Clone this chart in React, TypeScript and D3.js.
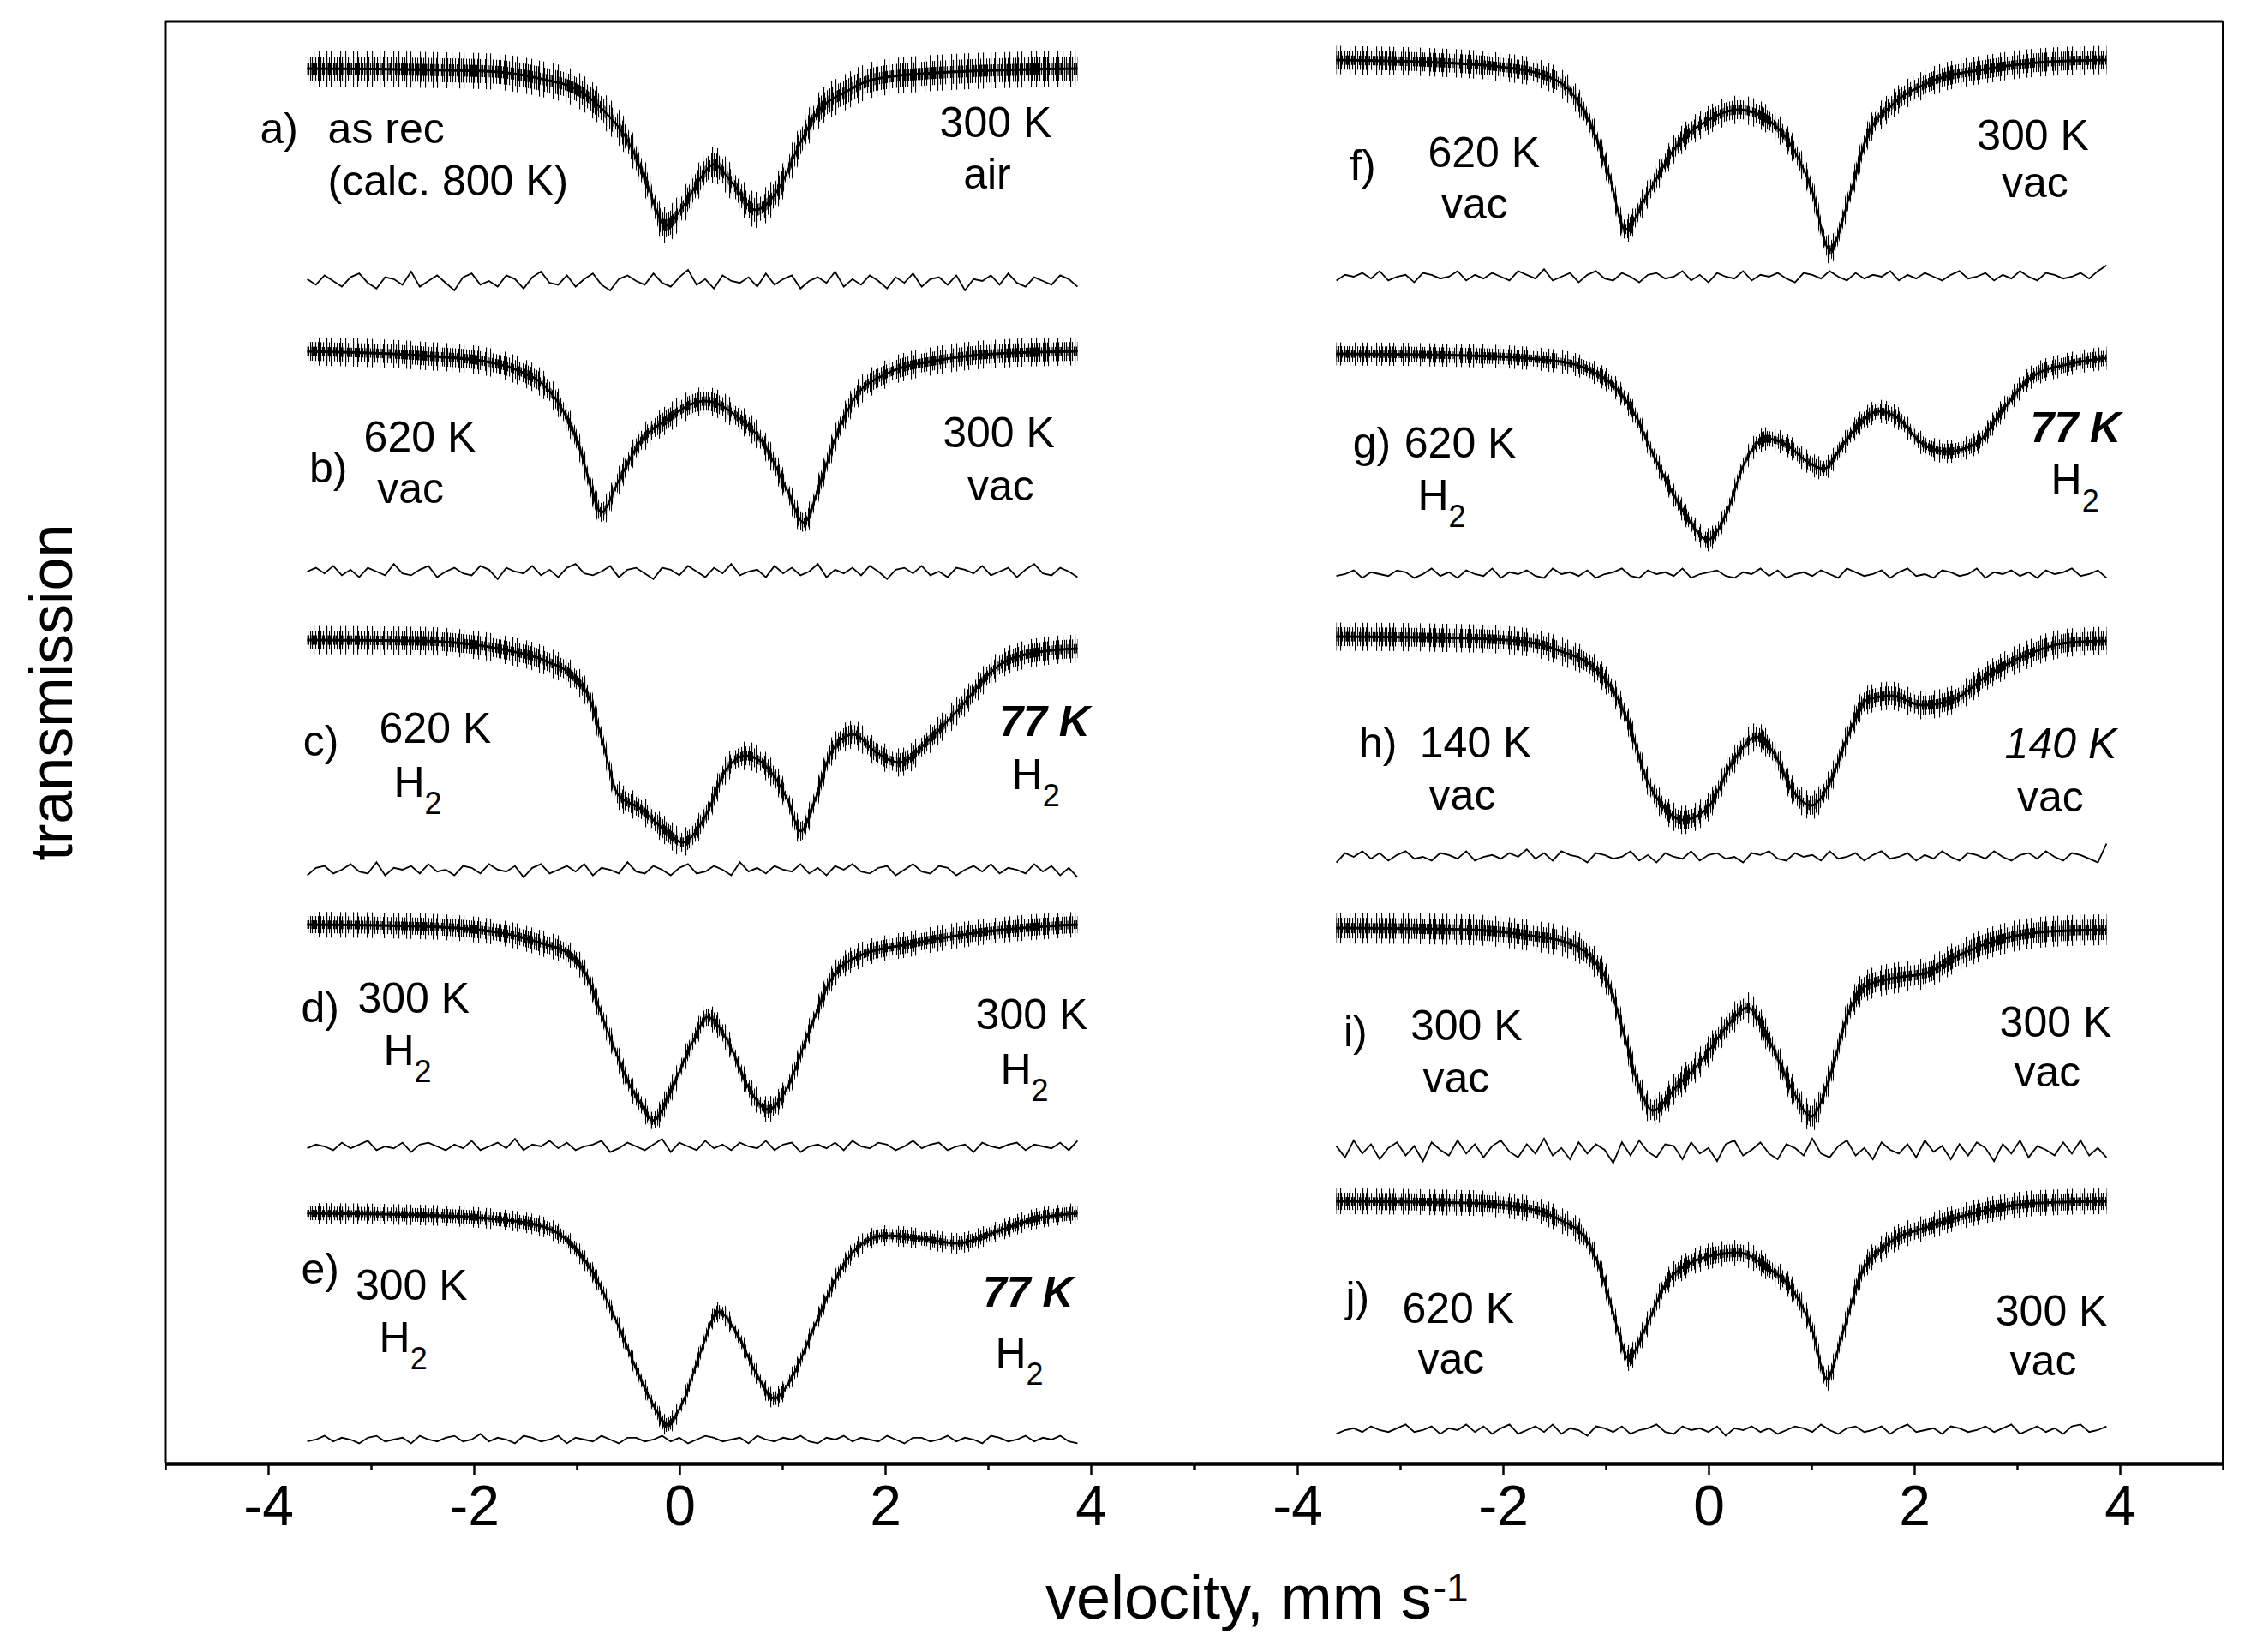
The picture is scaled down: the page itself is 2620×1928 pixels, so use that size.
import React, { useRef, useEffect } from 'react';
import * as d3 from 'd3';

const W = 2620;
const H = 1928;

// recorded velocity range (mm/s) and axis ticks
const velRange = [-3.62, 3.87];
const ticksMajor = [-4, -2, 0, 2, 4];
const ticksMinor = [-5, -3, -1, 1, 3, 5];

// fitted curves: velocity (mm/s) -> relative transmission (%)
const aVel = [-3.62, -1.89, -1.31, -1.02, -0.73, -0.49, -0.32, -0.14, 0.04, 0.21, 0.33, 0.51, 0.74, 0.98, 1.15, 1.33, 1.62, 1.91, 2.49, 3.08, 3.87];
const aFit = [100, 99.85, 99.35, 98.85, 97.5, 95.65, 93.35, 90.85, 92.0, 93.65, 94.4, 93.35, 91.75, 93.15, 95.35, 97.35, 98.65, 99.4, 99.75, 99.9, 100];

const bVel = [-3.62, -2.52, -1.88, -1.56, -1.29, -1.13, -0.97, -0.84, -0.76, -0.6, -0.39, -0.13, 0.25, 0.57, 0.83, 1.05, 1.21, 1.37, 1.53, 1.69, 2.0, 2.53, 3.07, 3.87];
const bFit = [100, 99.75, 99.4, 98.85, 97.85, 96.5, 94.35, 91.65, 90.6, 92.35, 94.65, 96.0, 97.1, 96.15, 94.5, 91.85, 90.0, 92.35, 95.15, 97.15, 98.65, 99.5, 99.85, 100];

const cVel = [-3.62, -2.52, -1.72, -1.29, -1.03, -0.87, -0.76, -0.6, -0.39, -0.13, 0.03, 0.25, 0.46, 0.65, 0.83, 1.05, 1.18, 1.32, 1.48, 1.69, 1.9, 2.14, 2.43, 2.75, 3.07, 3.44, 3.87];
const cFit = [100, 99.95, 99.45, 98.75, 97.85, 96.5, 94.35, 91.0, 90.2, 88.85, 88.2, 89.7, 92.5, 93.25, 92.7, 90.7, 88.85, 90.7, 93.5, 94.5, 93.5, 92.85, 94.2, 96.2, 98.35, 99.25, 99.5];

const dVel = [-3.62, -2.52, -1.77, -1.34, -1.08, -0.92, -0.71, -0.49, -0.34, -0.26, -0.07, 0.14, 0.27, 0.46, 0.67, 0.86, 1.05, 1.26, 1.47, 1.74, 2.27, 2.8, 3.33, 3.87];
const dFit = [100, 99.9, 99.55, 98.9, 98.3, 97.2, 93.95, 90.7, 89.2, 88.55, 90.5, 93.3, 94.6, 93.3, 90.5, 89.2, 90.5, 93.75, 96.75, 98.15, 98.9, 99.45, 99.8, 100];

const eVel = [-3.62, -2.52, -1.77, -1.29, -1.03, -0.82, -0.6, -0.39, -0.23, -0.13, 0.03, 0.2, 0.38, 0.57, 0.76, 0.92, 1.1, 1.32, 1.53, 1.74, 2.0, 2.38, 2.7, 3.07, 3.44, 3.87];
const eFit = [100, 99.9, 99.65, 99.15, 98.05, 96.3, 93.5, 90.5, 88.55, 87.65, 88.95, 91.8, 94.25, 92.85, 90.5, 89.2, 90.5, 93.5, 96.3, 98.05, 98.7, 98.5, 98.25, 98.9, 99.65, 100];

const fVel = [-3.62, -2.63, -2.03, -1.62, -1.32, -1.14, -0.96, -0.81, -0.61, -0.31, 0, 0.29, 0.58, 0.82, 1.0, 1.18, 1.36, 1.54, 1.78, 2.13, 2.73, 3.32, 3.87];
const fFit = [100, 99.85, 99.6, 99.15, 98.0, 96.15, 93.15, 90.1, 92.0, 95.0, 96.5, 97.1, 96.5, 94.85, 92.5, 88.9, 91.85, 95.5, 97.35, 98.65, 99.5, 99.9, 100];

const gVel = [-3.62, -2.33, -1.44, -1.14, -0.9, -0.72, -0.54, -0.36, -0.19, -0.01, 0.17, 0.35, 0.56, 0.77, 0.94, 1.12, 1.3, 1.48, 1.66, 1.83, 2.07, 2.31, 2.61, 2.85, 3.14, 3.5, 3.87];
const gFit = [100, 99.9, 99.55, 99.0, 98.0, 96.5, 94.15, 92.0, 90.3, 89.15, 90.65, 93.65, 95.05, 94.65, 93.8, 93.3, 94.65, 96.0, 96.65, 96.3, 94.8, 94.3, 94.8, 96.65, 98.65, 99.4, 99.75];

const hVel = [-3.62, -2.33, -1.73, -1.44, -1.14, -0.96, -0.78, -0.61, -0.43, -0.25, -0.01, 0.23, 0.47, 0.64, 0.82, 1.0, 1.18, 1.36, 1.54, 1.78, 2.07, 2.37, 2.73, 3.14, 3.5, 3.87];
const hFit = [100, 99.9, 99.65, 99.15, 98.3, 97.15, 95.0, 91.8, 90.0, 89.3, 90.0, 92.65, 94.15, 93.15, 91.0, 90.15, 91.5, 94.3, 96.3, 96.55, 96.0, 96.3, 97.8, 99.05, 99.65, 99.75];

const iVel = [-3.62, -2.33, -1.73, -1.38, -1.14, -0.96, -0.81, -0.69, -0.54, -0.31, -0.07, 0.17, 0.38, 0.58, 0.82, 1.0, 1.18, 1.36, 1.54, 1.83, 2.13, 2.43, 2.85, 3.32, 3.87];
const iFit = [100, 99.9, 99.55, 99.15, 98.25, 96.55, 93.55, 90.95, 89.35, 90.75, 92.25, 94.2, 95.35, 93.55, 90.5, 89.0, 91.35, 95.05, 96.65, 97.1, 97.4, 98.4, 99.35, 99.8, 99.9];

const jVel = [-3.62, -2.33, -1.73, -1.44, -1.2, -1.02, -0.9, -0.78, -0.61, -0.43, -0.19, 0.05, 0.29, 0.58, 0.82, 1.0, 1.15, 1.3, 1.48, 1.72, 2.13, 2.61, 3.21, 3.87];
const jFit = [100, 99.9, 99.55, 98.9, 97.85, 95.45, 92.9, 90.85, 92.65, 95.05, 96.35, 96.85, 97.0, 96.1, 94.8, 92.65, 89.65, 92.25, 95.7, 97.4, 98.5, 99.35, 99.9, 100];

// residuals (data - fit), in 0.1 % steps, equally spaced channels over velRange
const aRes = [1, -2, 3, 0, -3, 2, 4, -1, -4, 2, 1, -2, 5, -3, 0, 3, -1, -5, 2, 4, -2, 0, -3, 3, 1, -4, 2, 5, -1, -2, 3, -3, 1, 4, -2, -5, 1, 3, 0, -2, 4, -1, -3, 2, 6, -2, 1, -4, 3, 0, -1, 2, -3, 4, -2, 1, 3, -4, 0, 2, -1, 5, -3, 1, -2, 3, 0, -4, 2, -1, 4, -3, 1, 2, -2, 3, -5, 1, 0, 3, -2, 4, -1, -3, 2, 0, -2, 3, 1, -3];
const bRes = [0, 2, -1, 3, -2, 1, -3, 2, 0, -2, 4, -1, -2, 1, 3, -3, 0, 2, -1, -2, 3, 1, -4, 2, 0, -1, 3, -2, 1, -3, 2, 4, -1, -2, 0, 3, -3, 1, 2, -1, -4, 2, 1, -2, 3, 0, -3, 2, -1, 4, -2, 0, 1, -3, 3, -1, 2, -2, 0, 4, -3, 1, -1, 2, -2, 3, 0, -4, 1, 2, -1, 3, -2, 0, -3, 2, 1, -1, 3, -2, 0, 2, -3, 1, 4, -1, -2, 2, 0, -3];
const cRes = [-3, 1, 2, -2, 0, 3, -1, -2, 4, -3, 1, 0, 2, -2, 3, -1, 0, -3, 2, 1, -2, 3, 0, -1, 2, -4, 1, 3, -2, 0, 2, -1, 3, -3, 1, 0, -2, 4, -1, -2, 2, 0, -3, 1, 3, -2, -1, 2, 0, -3, 4, -1, 1, -2, 2, 0, -1, 3, -2, 1, -3, 2, 0, 3, -1, -2, 1, 2, -3, 0, 3, -1, -2, 2, 1, -3, 0, 2, -1, 3, -2, 1, 0, -2, 3, -1, 2, -3, 1, -4];
const dRes = [-1, 1, 0, -2, 2, -1, 1, 3, -2, 0, -1, 2, -3, 1, 2, 0, -2, 1, -1, 3, -2, 0, 2, -1, 4, -2, 1, 0, 3, -1, 2, -2, 0, 1, 3, -3, -1, 2, 0, -2, 1, 4, -3, 2, 0, -2, 3, -1, 1, -2, 2, 0, -1, 3, -2, 1, 2, -3, 0, 1, -1, 2, -2, 3, 0, -1, 2, 1, -2, 0, 3, -1, 1, 2, -2, 0, 1, -3, 2, 0, -1, 1, 2, -2, 1, 0, -1, 2, -2, 3];
const eRes = [-1, 0, 2, -1, 1, 0, -2, 1, 2, -1, 0, 1, -2, 2, 0, -1, 1, 2, -1, 0, 3, -1, 1, 0, -2, 2, 1, -1, 0, 2, -2, 1, 0, -1, 2, 0, -2, 1, 1, -1, 0, 2, -1, 1, -2, 0, 2, 1, -1, 0, 1, -2, 2, 0, -1, 1, 0, 2, -1, -2, 1, 0, 2, -1, 1, 0, -1, 2, 0, -2, 1, 1, -1, 0, 2, -1, 1, 0, -2, 2, 1, -1, 0, 2, -1, 1, 0, 2, -1, -2];
const fRes = [-2, 1, 0, 2, -1, 3, -2, 0, 1, -3, 2, 1, -1, 0, 3, -2, 1, -1, 2, 0, -2, 3, 1, -1, 4, -2, 0, 2, -3, 1, 3, -1, -2, 2, 0, -3, 1, 2, -1, 0, 3, -2, 1, -3, 2, 0, -1, 3, -2, 1, 0, 2, -1, -3, 2, 1, -1, 3, 0, -2, 2, -1, 1, 0, 3, -2, 1, -1, 2, 0, -2, 1, 3, -1, 0, 2, -2, 1, -1, 3, 0, -2, 2, 1, -1, 0, 2, -1, 3, 6];
const gRes = [-1, 0, 2, -2, 1, 0, -1, 2, 1, -2, 0, 3, -1, 1, -2, 2, 0, -1, 3, -2, 1, 0, 2, -1, -2, 3, 0, 1, -1, 2, -2, 0, 1, 3, -1, -2, 2, 0, 1, -1, 3, -2, 0, 1, 2, -1, -2, 1, 0, 3, -1, 2, -2, 0, 1, -1, 2, 0, -2, 3, 1, -1, 0, 2, -2, 1, 3, -1, 0, -2, 2, 1, -1, 0, 3, -2, 1, 0, 2, -1, 1, -2, 2, 0, 1, 3, -1, 0, 2, -2];
const hRes = [-3, 2, 0, 3, -1, 2, -2, 1, 3, -1, 0, -2, 2, 1, -1, 3, -2, 0, 1, -1, 2, 0, 4, -1, 2, -2, 3, 1, 0, -3, 2, 1, -1, 0, 3, -2, 1, -3, 2, 0, -1, 3, -2, 1, 2, -1, 0, -3, 2, 1, 3, -1, -2, 2, 0, 1, -2, 3, -1, 0, 2, -2, 1, 3, -1, 0, 2, -2, 1, -1, 3, 0, -2, 2, 1, -1, 3, 0, -2, 1, 2, -1, 3, 0, -2, 2, 1, -1, -3, 7];
const iRes = [2, -4, 5, -2, 3, -5, 1, 4, -3, 2, -6, 4, 0, -3, 5, -2, 3, -4, 2, 5, -1, -4, 3, -2, 6, -3, 1, -5, 4, -2, 3, 0, -7, 4, -3, 5, -1, -4, 3, 2, -5, 4, -2, 1, -6, 3, 5, -3, 0, 4, -2, -5, 3, 1, -3, 6, -2, -4, 2, 5, -3, 1, -5, 4, 0, -2, 3, -4, 5, -1, 2, -5, 3, -3, 4, 1, -6, 3, -2, 5, -4, 2, 0, -3, 4, -2, 5, -3, 1, -4];
const jRes = [-2, 0, 1, -1, 2, 0, -1, 1, 3, -1, 0, 2, -2, 1, 0, 3, -1, 2, -2, 1, 3, -2, 0, 2, -1, 3, -2, 1, 0, -3, 2, 1, -1, 2, -2, 0, 1, 3, -1, -2, 2, 0, 1, -1, 2, -3, 1, 0, 2, -1, 1, -2, 0, 2, 1, -1, 3, 0, -2, 1, 2, -1, 0, 2, -2, 1, 3, -1, 0, 1, -2, 2, 1, -1, 0, 2, -1, 1, 3, -2, 0, 2, -1, 1, -2, 2, 3, -1, 0, 2];

// stacking: column, baseline offset and residual offset (transmission units), noise band half-width (px)
const panels = [
  { col: 0, vel: aVel, fit: aFit, res: aRes, base: 81.4, resBase: 69.0, noise: 14 },
  { col: 0, vel: bVel, fit: bFit, res: bRes, base: 64.9, resBase: 52.05, noise: 11 },
  { col: 0, vel: cVel, fit: cFit, res: cRes, base: 48.05, resBase: 34.65, noise: 11 },
  { col: 0, vel: dVel, fit: dFit, res: dRes, base: 31.45, resBase: 18.5, noise: 10 },
  { col: 0, vel: eVel, fit: eFit, res: eRes, base: 14.6, resBase: 1.4, noise: 8 },
  { col: 1, vel: fVel, fit: fFit, res: fRes, base: 81.9, resBase: 69.25, noise: 11 },
  { col: 1, vel: gVel, fit: gFit, res: gRes, base: 64.75, resBase: 51.9, noise: 9 },
  { col: 1, vel: hVel, fit: hFit, res: hRes, base: 48.25, resBase: 35.4, noise: 11 },
  { col: 1, vel: iVel, fit: iFit, res: iRes, base: 31.25, resBase: 18.3, noise: 12 },
  { col: 1, vel: jVel, fit: jFit, res: jRes, base: 15.3, resBase: 1.95, noise: 10 },
];

// annotations: column, velocity of left edge, height (transmission units), text
const labels = [
  { col: 0, v: -4.08, t: 77.05, text: 'a)' },
  { col: 0, v: -3.42, t: 77.05, text: 'as rec' },
  { col: 0, v: -3.42, t: 74.0, text: '(calc. 800 K)' },
  { col: 0, v: 2.53, t: 77.4, text: '300 K' },
  { col: 0, v: 2.76, t: 74.4, text: 'air' },
  { col: 0, v: -3.6, t: 57.25, text: 'b)' },
  { col: 0, v: -3.07, t: 59.05, text: '620 K' },
  { col: 0, v: -2.94, t: 56.05, text: 'vac' },
  { col: 0, v: 2.56, t: 59.3, text: '300 K' },
  { col: 0, v: 2.8, t: 56.2, text: 'vac' },
  { col: 0, v: -3.66, t: 41.3, text: 'c)' },
  { col: 0, v: -2.92, t: 42.05, text: '620 K' },
  { col: 0, v: -2.78, t: 38.9, text: 'H', sub: '2' },
  { col: 0, v: 3.11, t: 42.45, text: '77 K', kind: 'bi' },
  { col: 0, v: 3.23, t: 39.35, text: 'H', sub: '2' },
  { col: 0, v: -3.68, t: 25.75, text: 'd)' },
  { col: 0, v: -3.13, t: 26.3, text: '300 K' },
  { col: 0, v: -2.88, t: 23.25, text: 'H', sub: '2' },
  { col: 0, v: 2.88, t: 25.35, text: '300 K' },
  { col: 0, v: 3.12, t: 22.15, text: 'H', sub: '2' },
  { col: 0, v: -3.68, t: 10.5, text: 'e)' },
  { col: 0, v: -3.15, t: 9.55, text: '300 K' },
  { col: 0, v: -2.92, t: 6.5, text: 'H', sub: '2' },
  { col: 0, v: 2.95, t: 9.15, text: '77 K', kind: 'bi' },
  { col: 0, v: 3.07, t: 5.6, text: 'H', sub: '2' },
  { col: 1, v: -3.49, t: 74.9, text: 'f)' },
  { col: 1, v: -2.73, t: 75.65, text: '620 K' },
  { col: 1, v: -2.6, t: 72.65, text: 'vac' },
  { col: 1, v: 2.61, t: 76.65, text: '300 K' },
  { col: 1, v: 2.85, t: 73.9, text: 'vac' },
  { col: 1, v: -3.46, t: 58.7, text: 'g)' },
  { col: 1, v: -2.96, t: 58.7, text: '620 K' },
  { col: 1, v: -2.83, t: 55.65, text: 'H', sub: '2' },
  { col: 1, v: 3.13, t: 59.6, text: '77 K', kind: 'bi' },
  { col: 1, v: 3.33, t: 56.55, text: 'H', sub: '2' },
  { col: 1, v: -3.4, t: 41.2, text: 'h)' },
  { col: 1, v: -2.81, t: 41.2, text: '140 K' },
  { col: 1, v: -2.72, t: 38.15, text: 'vac' },
  { col: 1, v: 2.88, t: 41.15, text: '140 K', kind: 'i' },
  { col: 1, v: 3.0, t: 38.05, text: 'vac' },
  { col: 1, v: -3.55, t: 24.35, text: 'i)' },
  { col: 1, v: -2.9, t: 24.7, text: '300 K' },
  { col: 1, v: -2.78, t: 21.65, text: 'vac' },
  { col: 1, v: 2.83, t: 24.9, text: '300 K' },
  { col: 1, v: 2.97, t: 22.0, text: 'vac' },
  { col: 1, v: -3.53, t: 8.85, text: 'j)' },
  { col: 1, v: -2.98, t: 8.2, text: '620 K' },
  { col: 1, v: -2.83, t: 5.25, text: 'vac' },
  { col: 1, v: 2.79, t: 8.05, text: '300 K' },
  { col: 1, v: 2.93, t: 5.15, text: 'vac' },
];

const FONT = '"Liberation Sans", Arial, Helvetica, sans-serif';

const App = () => {
  const ref = useRef<SVGSVGElement | null>(null);

  useEffect(() => {
    if (!ref.current) return;
    const svg = d3.select(ref.current);
    svg.selectAll('*').remove();
    svg.attr('width', W).attr('height', H);

    svg.append('rect').attr('width', W).attr('height', H).attr('fill', '#fff');

    // vertical hairline patterns, used as texture for the dense noisy data points
    const defs = svg.append('defs');
    const comb = (id: string, tile: number, xs: number[]) => {
      const p = defs.append('pattern').attr('id', id)
        .attr('width', tile).attr('height', 8).attr('patternUnits', 'userSpaceOnUse');
      xs.forEach(x0 => p.append('rect').attr('x', x0).attr('y', 0)
        .attr('width', 1.1).attr('height', 8).attr('fill', '#000'));
    };
    comb('combSpike', 31, [0, 9, 14, 25]);
    comb('combSparse', 22, [0, 3, 7, 10, 12, 16, 19]);
    comb('combDense', 9, [0, 2, 3.5, 5, 7]);

    const xs = [
      d3.scaleLinear().domain([-5, 5]).range([193, 1393]),
      d3.scaleLinear().domain([-5, 5]).range([1394, 2594]),
    ];
    const y = d3.scaleLinear().domain([0, 84.15]).range([1708, 25]);

    const plot = svg.append('g');
    panels.forEach(p => {
      const x = xs[p.col];
      const pts = p.vel.map((v, i) => [v, p.fit[i]] as [number, number]);
      const yv = (t: number) => y(p.base + t - 100);

      const band = (w: number) => d3.area<[number, number]>()
        .x(d => x(d[0]))
        .y0(d => yv(d[1]) - w)
        .y1(d => yv(d[1]) + w)
        .curve(d3.curveMonotoneX);

      plot.append('path').attr('d', band(p.noise * 1.5)(pts)).attr('fill', 'url(#combSpike)');
      plot.append('path').attr('d', band(p.noise)(pts)).attr('fill', 'url(#combSparse)');
      plot.append('path').attr('d', band(p.noise * 0.5)(pts)).attr('fill', 'url(#combDense)');
      plot.append('path').attr('d', band(1.6)(pts)).attr('fill', '#000');

      const fitLine = d3.line<[number, number]>()
        .x(d => x(d[0]))
        .y(d => yv(d[1]))
        .curve(d3.curveMonotoneX);
      plot.append('path').attr('d', fitLine(pts))
        .attr('fill', 'none').attr('stroke', '#000').attr('stroke-width', 2.2);

      // residual trace below the spectrum
      const ch = d3.scaleLinear().domain([0, p.res.length - 1]).range(velRange);
      const resLine = d3.line<number>()
        .x((d, i) => x(ch(i)))
        .y(d => y(p.resBase + d * 0.11));
      plot.append('path').attr('d', resLine(p.res))
        .attr('fill', 'none').attr('stroke', '#000').attr('stroke-width', 1.8);
    });

    // annotations
    const ann = svg.append('g').attr('font-family', FONT).attr('font-size', 50).attr('fill', '#000');
    labels.forEach(l => {
      const t = ann.append('text')
        .attr('x', xs[l.col](l.v))
        .attr('y', y(l.t))
        .text(l.text);
      if (l.kind === 'bi') t.attr('font-weight', 'bold').attr('font-style', 'italic');
      if (l.kind === 'i') t.attr('font-style', 'italic');
      if (l.sub) t.append('tspan').attr('dy', 20).attr('font-size', 36).text(l.sub);
    });

    // frame
    const frame = svg.append('g').attr('stroke', '#000').attr('fill', 'none');
    frame.append('line').attr('x1', 193).attr('x2', 2594).attr('y1', 25).attr('y2', 25).attr('stroke-width', 3);
    frame.append('line').attr('x1', 193).attr('x2', 193).attr('y1', 25).attr('y2', 1708).attr('stroke-width', 3);
    frame.append('line').attr('x1', 2594).attr('x2', 2594).attr('y1', 25).attr('y2', 1708).attr('stroke-width', 2);

    // x axes (two panels side by side)
    const axisG = svg.append('g').attr('transform', 'translate(0,1708)');
    xs.forEach(x => {
      const major = axisG.append('g').call(
        d3.axisBottom(x).tickValues(ticksMajor).tickSize(13).tickPadding(12)
          .tickSizeOuter(0).tickFormat(d => String(d))
      );
      const minor = axisG.append('g').call(
        d3.axisBottom(x).tickValues(ticksMinor).tickSize(8)
          .tickSizeOuter(0).tickFormat(() => '')
      );
      [major, minor].forEach(a => {
        a.select('.domain').attr('stroke', '#000').attr('stroke-width', 4);
        a.selectAll('.tick line').attr('stroke', '#000').attr('stroke-width', 2.5);
      });
      major.selectAll('.tick text')
        .attr('font-family', FONT).attr('font-size', 66).attr('fill', '#000');
    });

    // axis titles
    const xt = svg.append('text')
      .attr('x', 1220).attr('y', 1889)
      .attr('font-family', FONT).attr('font-size', 72).attr('fill', '#000')
      .text('velocity, mm s');
    xt.append('tspan').attr('dx', 2).attr('dy', -20).attr('font-size', 46).text('-1');

    svg.append('text')
      .attr('transform', 'translate(84,808) rotate(-90)')
      .attr('text-anchor', 'middle')
      .attr('font-family', FONT).attr('font-size', 70).attr('fill', '#000')
      .text('transmission');
  }, []);

  return (
    <svg ref={ref} style={{ position: 'absolute', left: 0, top: 0, display: 'block' }} />
  );
};

export default App;
